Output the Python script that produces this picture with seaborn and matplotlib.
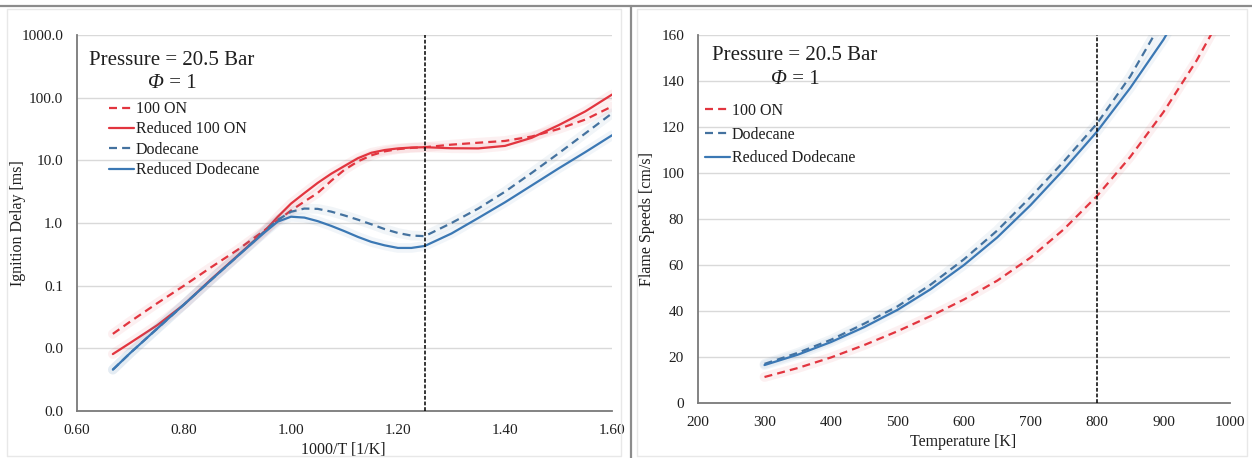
import numpy as np
import pandas as pd
import matplotlib
matplotlib.use("Agg")
import matplotlib.pyplot as plt
from matplotlib.lines import Line2D
from matplotlib.ticker import FixedLocator, FuncFormatter, NullLocator
import seaborn as sns

# ---------------- data ----------------
# Ignition delay [ms] versus 1000/T [1/K]
inv_t = [0.667, 0.70, 0.75, 0.80, 0.85, 0.90, 0.95, 0.975, 1.00, 1.025, 1.05, 1.075,
         1.10, 1.125, 1.15, 1.175, 1.20, 1.225, 1.25, 1.30, 1.35, 1.40, 1.45, 1.50, 1.55, 1.60]
delay_100on = [0.0170, 0.0269, 0.0525, 0.100, 0.195, 0.372, 0.759, 1.10, 1.58, 2.20, 3.02, 4.70,
               7.08, 9.60, 12.0, 13.9, 15.1, 15.8, 16.2, 17.8, 19.1, 20.4, 24.0, 31.6, 44.7, 72.4]
delay_red_100on = [0.0081, 0.0123, 0.0234, 0.0500, 0.125, 0.300, 0.730, 1.25, 2.04, 3.00, 4.37, 6.10,
                   8.13, 10.8, 13.2, 14.6, 15.5, 16.0, 16.2, 15.6, 15.5, 17.0, 22.9, 36.3, 60.3, 112.0]
delay_dodecane = [0.00457, 0.0085, 0.0207, 0.0501, 0.122, 0.295, 0.725, 1.12, 1.51, 1.70, 1.68, 1.52,
                  1.32, 1.13, 0.955, 0.80, 0.692, 0.63, 0.617, 1.00, 1.70, 3.16, 6.31, 12.9, 26.9, 56.2]
delay_red_dodecane = [0.00457, 0.0085, 0.0207, 0.0501, 0.122, 0.295, 0.70, 1.05, 1.26, 1.22, 1.07, 0.90,
                      0.74, 0.60, 0.50, 0.44, 0.40, 0.40, 0.43, 0.68, 1.20, 2.14, 3.98, 7.41, 13.5, 25.1]

# Laminar flame speed [cm/s] versus unburned temperature [K]
temp = [300, 350, 400, 450, 500, 550, 600, 650, 700, 750, 800, 850, 900, 950, 1000]
speed_100on = [11.3, 15.2, 19.8, 25.2, 31.2, 37.8, 45.0, 53.2, 63.2, 75.5, 90.0, 107.0, 126.5, 149.0, 175.0]
speed_dodecane = [17.0, 21.8, 27.5, 34.5, 42.0, 51.5, 62.5, 75.0, 89.5, 105.0, 121.5, 142.0, 167.0, 196.0, 229.0]
speed_red_dodecane = [16.5, 21.0, 26.5, 33.0, 40.5, 49.5, 60.0, 72.0, 86.0, 101.5, 118.0, 137.0, 158.0, 183.0, 211.0]

delay_ticks = [0.001, 0.01, 0.1, 1, 10, 100, 1000]
inv_t_ticks = [0.60, 0.80, 1.00, 1.20, 1.40, 1.60]
speed_ticks = [0, 20, 40, 60, 80, 100, 120, 140, 160]
temp_ticks = [200, 300, 400, 500, 600, 700, 800, 900, 1000]

# ---------------- style ----------------
sns.set_theme(style="white")
plt.rcParams["font.family"] = ["Liberation Serif", "DejaVu Serif"]

RED = "#e2353f"
BLUE = "#3b78b4"
BLUE_D = "#44729f"
GRID = "#d9d9d9"
SPINE = "#7a7a7a"
TXT = "#1f1f1f"

W, H = 1252, 458
fig = plt.figure(figsize=(W / 100, H / 100), dpi=100)
fig.patch.set_facecolor("white")


def frac(x0, y0, x1, y1):
    return [x0 / W, 1 - y1 / H, (x1 - x0) / W, (y1 - y0) / H]


ax1 = fig.add_axes(frac(77, 35, 612, 411))
ax2 = fig.add_axes(frac(698, 35, 1230, 403))

DASH = (3.6, 2.3)


def draw(ax, x, y, color, dashed, label):
    # soft glow under each curve
    sns.lineplot(x=x, y=y, ax=ax, color=color, lw=7, alpha=0.07, legend=False)
    sns.lineplot(x=x, y=y, ax=ax, color=color, lw=1.6, label=label, legend=False)
    line = ax.lines[-1]
    if dashed:
        line.set_dashes(DASH)
    return line


# ---- left: ignition delay ----
h1 = [
    draw(ax1, inv_t, delay_100on, RED, True, "100 ON"),
    draw(ax1, inv_t, delay_red_100on, RED, False, "Reduced 100 ON"),
    draw(ax1, inv_t, delay_dodecane, BLUE_D, True, "Dodecane"),
    draw(ax1, inv_t, delay_red_dodecane, BLUE, False, "Reduced Dodecane"),
]
ax1.set_yscale("log")
ax1.set_ylim(0.001, 1000)
ax1.set_xlim(0.60, 1.60)
ax1.yaxis.set_major_locator(FixedLocator(delay_ticks))
ax1.yaxis.set_minor_locator(NullLocator())
ax1.yaxis.set_major_formatter(FuncFormatter(lambda v, p: f"{v:.1f}"))
ax1.xaxis.set_major_locator(FixedLocator(inv_t_ticks))
ax1.xaxis.set_major_formatter(FuncFormatter(lambda v, p: f"{v:.2f}"))
ax1.axvline(1.25, color="black", lw=1.1, dashes=(2.5, 1.2), zorder=5)
ax1.set_xlabel("1000/T [1/K]")
ax1.set_ylabel("Ignition Delay [ms]")

# ---- right: flame speed ----
h2 = [
    draw(ax2, temp, speed_100on, RED, True, "100 ON"),
    draw(ax2, temp, speed_dodecane, BLUE_D, True, "Dodecane"),
    draw(ax2, temp, speed_red_dodecane, BLUE, False, "Reduced Dodecane"),
]
ax2.set_ylim(0, 160)
ax2.set_xlim(200, 1000)
ax2.yaxis.set_major_locator(FixedLocator(speed_ticks))
ax2.xaxis.set_major_locator(FixedLocator(temp_ticks))
ax2.axvline(800, color="black", lw=1.1, dashes=(2.5, 1.2), zorder=5)
ax2.set_xlabel("Temperature [K]")
ax2.set_ylabel("Flame Speeds [cm/s]")

for ax in (ax1, ax2):
    ax.set_facecolor("white")
    ax.grid(axis="y", color=GRID, lw=1.0)
    ax.grid(axis="x", visible=False)
    ax.set_axisbelow(True)
    for s in ("top", "right"):
        ax.spines[s].set_visible(False)
    for s in ("left", "bottom"):
        ax.spines[s].set_color(SPINE)
        ax.spines[s].set_linewidth(1.3)
    ax.tick_params(axis="both", length=0, labelsize=11, labelcolor=TXT)
    ax.tick_params(axis="y", pad=10)
    ax.tick_params(axis="x", pad=9)
    ax.xaxis.label.set_size(11.5)
    ax.yaxis.label.set_size(11.5)
    ax.xaxis.label.set_color(TXT)
    ax.yaxis.label.set_color(TXT)
    ax.xaxis.label.set_va("center")
    ax.yaxis.label.set_va("center")

ax1.xaxis.set_label_coords(0.497, -0.104)
ax1.yaxis.set_label_coords(-0.110, 0.5)
ax2.xaxis.set_label_coords(0.498, -0.106)
ax2.yaxis.set_label_coords(-0.096, 0.5)


def conditions(ax, x_left, y_top, x_phi, y_phi):
    ax.text(x_left, y_top, "Pressure = 20.5 Bar", transform=ax.transAxes, fontsize=15,
            va="center", ha="left", color=TXT)
    ax.text(x_phi, y_phi, "Φ", transform=ax.transAxes, fontsize=15, fontstyle="italic",
            va="center", ha="right", color=TXT)
    ax.text(x_phi, y_phi, " = 1", transform=ax.transAxes, fontsize=15,
            va="center", ha="left", color=TXT)


conditions(ax1, 0.022, 0.932, 0.163, 0.872)
conditions(ax2, 0.026, 0.945, 0.167, 0.878)

leg_kw = dict(frameon=False, fontsize=11.5, handlelength=1.55, handletextpad=0.12,
              borderpad=0, borderaxespad=0, loc="upper left", labelcolor=TXT)
ax1.legend(handles=h1, labels=[h.get_label() for h in h1], bbox_to_anchor=(0.060, 0.824),
           labelspacing=0.27, **leg_kw)
ax2.legend(handles=h2, labels=[h.get_label() for h in h2], bbox_to_anchor=(0.013, 0.815),
           labelspacing=0.48, **leg_kw)

# panel frames
for x0, x1 in ((7, 621), (637, 1247)):
    fig.add_artist(Line2D([x0 / W, x0 / W, x1 / W, x1 / W, x0 / W],
                          [1 - 456 / H, 1 - 9 / H, 1 - 9 / H, 1 - 456 / H, 1 - 456 / H],
                          color="#e8e8e8", lw=1.0))
fig.add_artist(Line2D([0, 1], [1 - 6 / H, 1 - 6 / H], color="#8c8c8c", lw=1.6))
fig.add_artist(Line2D([631 / W, 631 / W], [0, 1 - 6 / H], color="#8c8c8c", lw=1.6))

fig.savefig("out.png", dpi=100, facecolor="white")
